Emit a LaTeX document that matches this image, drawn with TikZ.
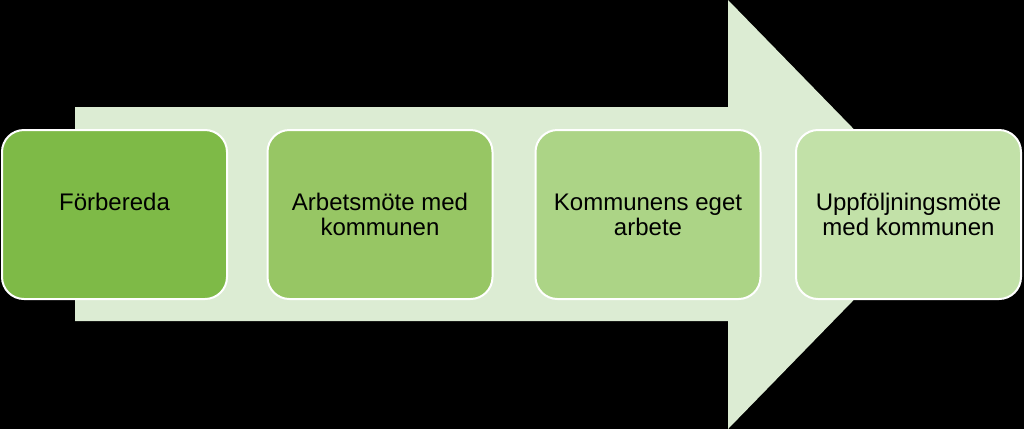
\documentclass[tikz,border=0pt]{standalone}
\usepackage{fontspec}
\setmainfont{Liberation Sans}
\definecolor{arrowgreen}{RGB}{220,236,211}
\definecolor{phaseone}{RGB}{126,186,71}
\definecolor{phasetwo}{RGB}{151,198,100}
\definecolor{phasethree}{RGB}{172,212,134}
\definecolor{phasefour}{RGB}{194,225,168}
\tikzset{phasebox/.style={draw=white,line width=2pt,rounded corners=22pt,minimum width=225pt,minimum height=169pt,inner sep=0pt,align=center,font=\fontsize{24}{25}\selectfont}}
\begin{document}
\begin{tikzpicture}[x=1pt,y=-1pt]
                \fill[black] (0,0) rectangle (1024,429);
                \fill[arrowgreen] (75,107) -- (728,107) -- (728,0) -- (937,214.5) -- (728,429) -- (728,321) -- (75,321) -- cycle;
                \node[phasebox,fill=phaseone] (prep) at (114.5,214.5) {Förbereda\\\mbox{}};
                \node[phasebox,fill=phasetwo] (meet) at (380,214.5) {Arbetsmöte med\\kommunen};
                \node[phasebox,fill=phasethree] (work) at (648,214.5) {Kommunens eget\\arbete};
                \node[phasebox,fill=phasefour] (follow) at (908.5,214.5) {Uppföljningsmöte\\med kommunen};
            \end{tikzpicture}
\end{document}
